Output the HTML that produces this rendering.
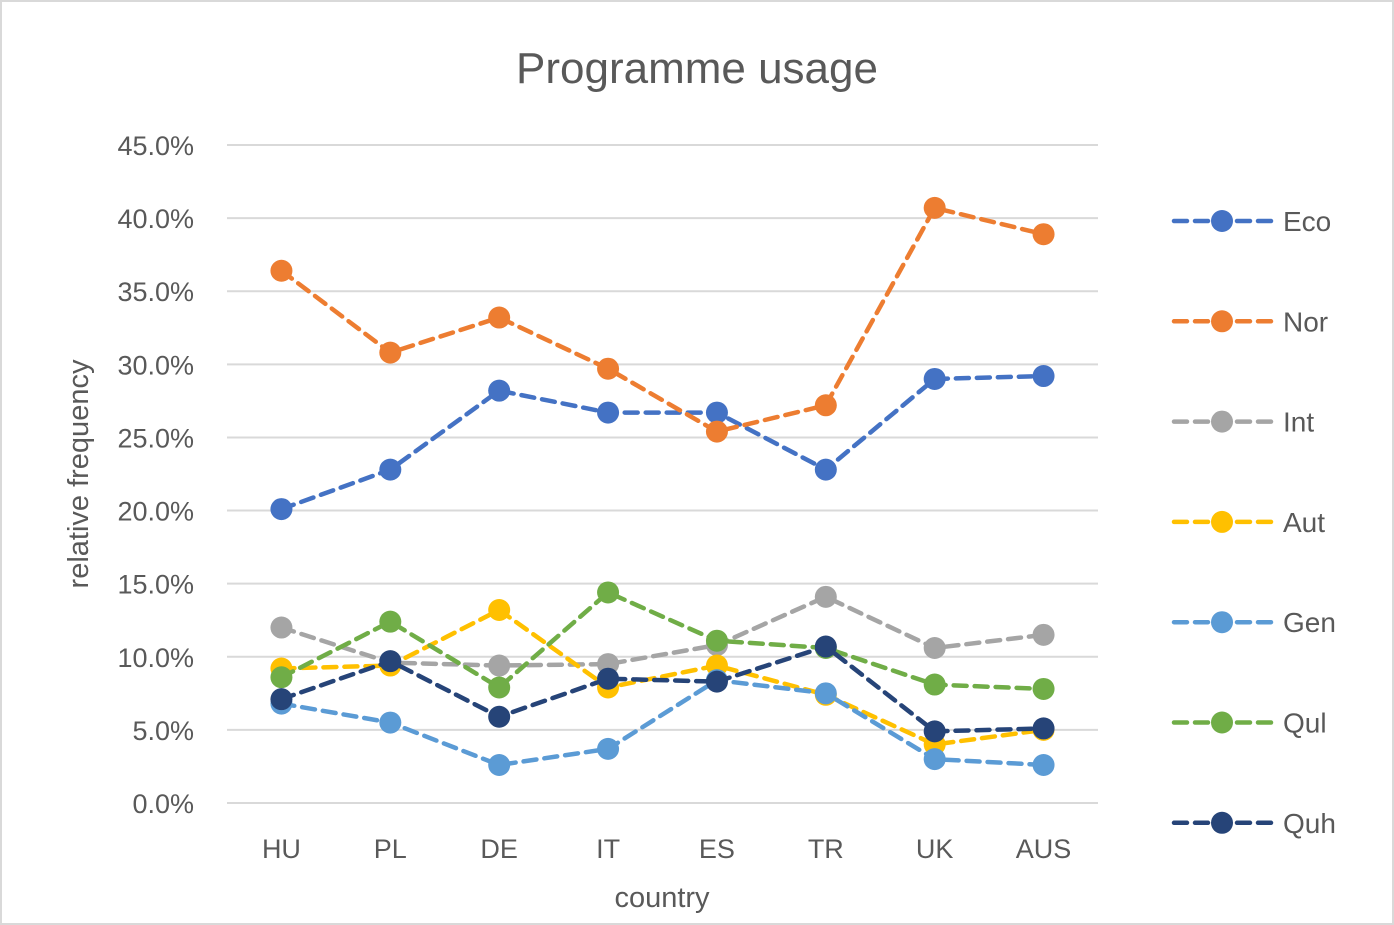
<!DOCTYPE html>
<html><head><meta charset="utf-8"><style>
html,body{margin:0;padding:0;background:#fff}
svg{display:block;font-family:"Liberation Sans",sans-serif}
</style></head><body>
<svg id="chart" width="1394" height="925">
<rect x="1" y="1" width="1392" height="923" fill="#fff" stroke="#d9d9d9" stroke-width="2"/>
<text x="697" y="83" text-anchor="middle" font-size="44" fill="#595959">Programme usage</text>
<text transform="translate(88,474) rotate(-90)" text-anchor="middle" font-size="29" fill="#595959">relative frequency</text>
<text x="662" y="907" text-anchor="middle" font-size="29" fill="#595959">country</text>
<g id="grid"></g><g id="series"></g><g id="legend"></g>
</svg>
<script>
const categories=["HU","PL","DE","IT","ES","TR","UK","AUS"];
const seriesNames=["Eco","Nor","Int","Aut","Gen","Qul","Quh"];
const seriesColors=["#4472c4","#ed7d31","#a5a5a5","#ffc000","#5b9bd5","#70ad47","#264478"];
const eco=[20.1,22.8,28.2,26.7,26.7,22.8,29.0,29.2];
const nor=[36.4,30.8,33.2,29.7,25.4,27.2,40.7,38.9];
const int_=[12.0,9.6,9.4,9.5,10.8,14.1,10.6,11.5];
const aut=[9.2,9.4,13.2,7.9,9.4,7.4,4.0,5.0];
const gen=[6.8,5.5,2.6,3.7,8.4,7.5,3.0,2.6];
const qul=[8.6,12.4,7.9,14.4,11.1,10.6,8.1,7.8];
const quh=[7.1,9.7,5.9,8.5,8.3,10.7,4.9,5.1];
const yTicks=[0,5,10,15,20,25,30,35,40,45];
const allSeries=[eco,nor,int_,aut,gen,qul,quh];
const NS="http://www.w3.org/2000/svg";
const x0=227,x1=1098,y0=803,y1=145;
const xs=i=>x0+(x1-x0)/categories.length*(i+0.5);
const ys=v=>y0-(v/45)*(y0-y1);
function mk(t,a,p){const e=document.createElementNS(NS,t);for(const k in a)e.setAttribute(k,a[k]);p.appendChild(e);return e;}
const grid=document.getElementById('grid');
yTicks.forEach(t=>{
 const l=mk('line',{x1:x0,x2:x1,y1:ys(t),y2:ys(t),stroke:'#d9d9d9','stroke-width':2},grid);
 
 
 const tx=mk('text',{x:194,y:ys(t)+10,'text-anchor':'end','font-size':27,fill:'#595959'},grid);
 tx.textContent=t.toFixed(1)+'%';
 
 
});
categories.forEach((c,i)=>{
 const tx=mk('text',{x:xs(i),y:858,'text-anchor':'middle','font-size':27,fill:'#595959'},grid);
 tx.textContent=c;
 
 
});
const sg=document.getElementById('series');
allSeries.forEach((vals,s)=>{
 const g=mk('g',{},sg);
 
 
 const pts=vals.map((v,i)=>xs(i)+','+ys(v)).join(' ');
 const pl=mk('polyline',{points:pts,fill:'none',stroke:seriesColors[s],'stroke-width':4.5,'stroke-dasharray':'13 8','stroke-linecap':'round'},g);
 
 
 vals.forEach((v,i)=>{
  const c=mk('circle',{cx:xs(i),cy:ys(v),r:11,fill:seriesColors[s]},g);
  
  
 });
});
const lg=document.getElementById('legend');
seriesNames.forEach((n,s)=>{
 const y=221+s*100.3;
 const g=mk('g',{},lg);
 
 
 mk('line',{x1:1174,x2:1272,y1:y,y2:y,stroke:seriesColors[s],'stroke-width':4.5,'stroke-dasharray':'13 8','stroke-linecap':'round'},g);
 mk('circle',{cx:1222,cy:y,r:11,fill:seriesColors[s]},g);
 const t=mk('text',{x:1283,y:y+10,'font-size':28,fill:'#595959'},g);
 t.textContent=n;
});
</script>
</body></html>
